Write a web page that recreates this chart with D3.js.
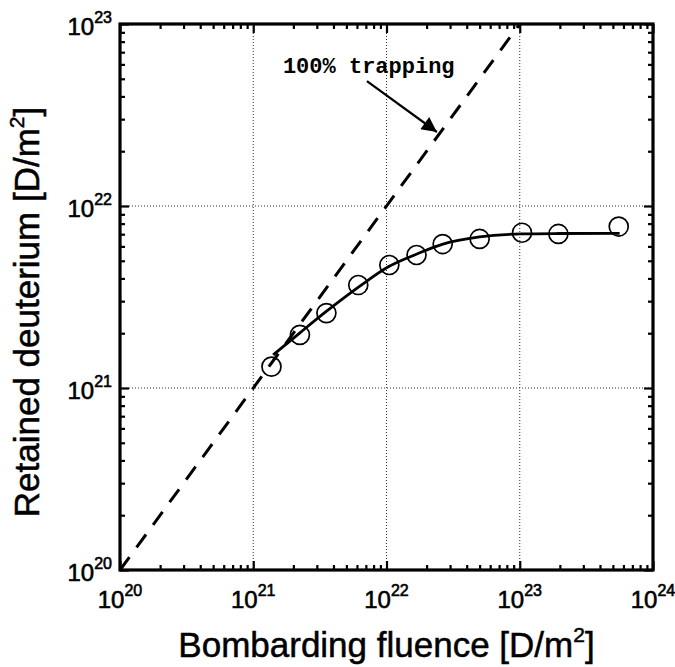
<!DOCTYPE html>
<html><head><meta charset="utf-8">
<script src="https://cdn.jsdelivr.net/npm/d3@7"></script>
<style>html,body{margin:0;padding:0;background:#fff}</style>
</head><body>
<svg id="c" width="675" height="667"></svg>
<script>
// measured data (fluence, retained D) in D/m^2
const fluence  = [1.37e21, 2.24e21, 3.54e21, 6.14e21, 1.05e22, 1.68e22, 2.64e22, 5.0e22, 1.04e23, 1.95e23, 5.53e23];
const retained = [1.31e21, 1.96e21, 2.58e21, 3.68e21, 4.74e21, 5.38e21, 6.18e21, 6.59e21, 7.13e21, 7.02e21, 7.71e21];
// fitted curve
const fitX = [1.41e21, 2.24e21, 3.57e21, 6.31e21, 1.04e22, 1.69e22, 2.65e22, 5.0e22, 1.04e23, 2.0e23, 5.62e23];
const fitY = [1.52e21, 2.01e21, 2.65e21, 3.63e21, 4.65e21, 5.45e21, 6.18e21, 6.76e21, 7.02e21, 7.06e21, 7.08e21];
// 100% trapping line
const trapX = [1e20, 1e23];
const trapY = [1e20, 1e23];
const xTicks = [1e20, 1e21, 1e22, 1e23, 1e24];
const yTicks = [1e20, 1e21, 1e22, 1e23];
const xTickExp = ["20", "21", "22", "23", "24"];
const yTickExp = ["20", "21", "22", "23"];
const gridX = [1e21, 1e22, 1e23];
const gridY = [1e21, 1e22];
const annText = "100% trapping";
const annTextPos = [1.67e21, 5.38e22];
const annFrom = [7.13e21, 4.86e22];
const annTo = [2.39e22, 2.55e22];

const svg = d3.select("#c");
const L = 120, R = 653, T = 24, B = 570;
const x = d3.scaleLog().domain([1e20, 1e24]).range([L, R]);
const y = d3.scaleLog().domain([1e20, 1e23]).range([B, T]);
const font = "'Liberation Sans', Arial, sans-serif";

// grid
svg.append("g").selectAll("line").data(gridX).join("line")
  .attr("x1", d => x(d)).attr("x2", d => x(d)).attr("y1", T).attr("y2", B)
  .attr("stroke", "#333").attr("stroke-width", 1).attr("stroke-dasharray", "1,2");
svg.append("g").selectAll("line").data(gridY).join("line")
  .attr("y1", d => y(d)).attr("y2", d => y(d)).attr("x1", L).attr("x2", R)
  .attr("stroke", "#333").attr("stroke-width", 1).attr("stroke-dasharray", "1,2");

// ticks inward on all sides
const minorX = [], minorY = [];
for (let e = 20; e < 24; e++) for (let m = 2; m <= 9; m++) minorX.push(m * Math.pow(10, e));
for (let e = 20; e < 23; e++) for (let m = 2; m <= 9; m++) minorY.push(m * Math.pow(10, e));
const axB = d3.axisTop(x).tickValues(minorX).tickSize(5).tickFormat("");
const axBM = d3.axisTop(x).tickValues(xTicks).tickSize(9).tickFormat("");
const axT = d3.axisBottom(x).tickValues(minorX).tickSize(5).tickFormat("");
const axTM = d3.axisBottom(x).tickValues(xTicks).tickSize(9).tickFormat("");
const axL = d3.axisRight(y).tickValues(minorY).tickSize(5).tickFormat("");
const axLM = d3.axisRight(y).tickValues(yTicks).tickSize(9).tickFormat("");
const axR = d3.axisLeft(y).tickValues(minorY).tickSize(5).tickFormat("");
const axRM = d3.axisLeft(y).tickValues(yTicks).tickSize(9).tickFormat("");
[[axB, `translate(0,${B})`], [axBM, `translate(0,${B})`], [axT, `translate(0,${T})`], [axTM, `translate(0,${T})`],
 [axL, `translate(${L},0)`], [axLM, `translate(${L},0)`], [axR, `translate(${R},0)`], [axRM, `translate(${R},0)`]]
 .forEach(([a, tr]) => {
   const g = svg.append("g").attr("transform", tr).call(a);
   g.select(".domain").remove();
   g.selectAll("line").attr("stroke", "#000").attr("stroke-width", 2.2);
 });

// frame
svg.append("rect").attr("x", L).attr("y", T).attr("width", R - L).attr("height", B - T)
  .attr("fill", "none").attr("stroke", "#000").attr("stroke-width", 3.2);

// tick labels
const xl = svg.append("g").attr("font-family", font).attr("fill", "#000")
  .attr("stroke", "#000").attr("stroke-width", 0.6);
xTicks.forEach((d, i) => {
  const t = xl.append("text").attr("x", x(d)).attr("y", 608).attr("text-anchor", "middle").attr("font-size", 24);
  t.append("tspan").text("10");
  t.append("tspan").attr("font-size", 16).attr("dy", -12).text(xTickExp[i]);
});
yTicks.forEach((d, i) => {
  const t = xl.append("text").attr("x", 112).attr("y", y(d) + 11).attr("text-anchor", "end").attr("font-size", 24);
  t.append("tspan").text("10");
  t.append("tspan").attr("font-size", 16).attr("dy", -12).text(yTickExp[i]);
});

// axis titles
const xt = svg.append("text").attr("x", (L + R) / 2).attr("y", 657).attr("text-anchor", "middle")
  .attr("font-family", font).attr("font-size", 35).attr("fill", "#000")
  .attr("stroke", "#000").attr("stroke-width", 0.5);
xt.append("tspan").text("Bombarding fluence [D/m");
xt.append("tspan").attr("font-size", 21).attr("dy", -15).text("2");
xt.append("tspan").attr("dy", 15).text("]");
const yt = svg.append("text").attr("transform", `translate(39,312) rotate(-90)`).attr("text-anchor", "middle")
  .attr("font-family", font).attr("font-size", 35).attr("fill", "#000")
  .attr("stroke", "#000").attr("stroke-width", 0.5);
yt.append("tspan").text("Retained deuterium [D/m");
yt.append("tspan").attr("font-size", 21).attr("dy", -15).text("2");
yt.append("tspan").attr("dy", 15).text("]");

// 100% trapping dashed line
svg.append("path").datum(d3.zip(trapX, trapY))
  .attr("d", d3.line().x(d => x(d[0])).y(d => y(d[1])))
  .attr("fill", "none").attr("stroke", "#000").attr("stroke-width", 3).attr("stroke-dasharray", "16,12");

// fit curve
svg.append("path").datum(d3.zip(fitX, fitY))
  .attr("d", d3.line().x(d => x(d[0])).y(d => y(d[1])).curve(d3.curveMonotoneX))
  .attr("fill", "none").attr("stroke", "#000").attr("stroke-width", 2.8);

// data circles
svg.append("g").selectAll("circle").data(d3.zip(fluence, retained)).join("circle")
  .attr("cx", d => x(d[0])).attr("cy", d => y(d[1])).attr("r", 9.5)
  .attr("fill", "none").attr("stroke", "#000").attr("stroke-width", 1.7);

// annotation
svg.append("text").attr("x", x(annTextPos[0])).attr("y", y(annTextPos[1]))
  .attr("font-family", "'Liberation Mono', 'DejaVu Sans Mono', monospace").attr("font-size", 22)
  .attr("font-weight", "bold").attr("fill", "#000").text(annText);
svg.append("defs").append("marker").attr("id", "ah").attr("viewBox", "0 0 10 10")
  .attr("refX", 10).attr("refY", 5)
  .attr("markerUnits", "userSpaceOnUse").attr("orient", "auto")
  .attr("markerWidth", 20).attr("markerHeight", 15)
  .append("path").attr("d", "M0,0 L10,5 L0,10 Z").attr("fill", "#000");
svg.append("line").attr("x1", x(annFrom[0])).attr("y1", y(annFrom[1]))
  .attr("x2", x(annTo[0])).attr("y2", y(annTo[1]))
  .attr("stroke", "#000").attr("stroke-width", 2.2).attr("marker-end", "url(#ah)");
</script>
</body></html>
